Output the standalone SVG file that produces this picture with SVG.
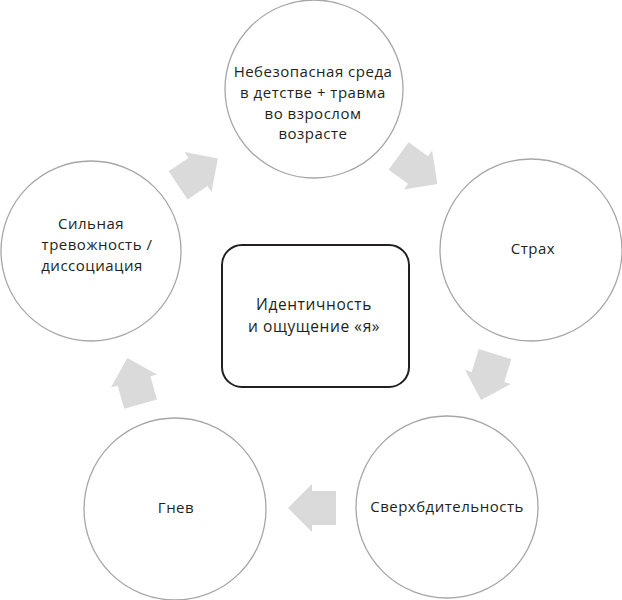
<svg xmlns="http://www.w3.org/2000/svg" width="622" height="600" viewBox="0 0 622 600">
<style>
.c{fill:#fff;stroke:#a6a6a6;stroke-width:1.3}
.t{font-family:"Open Sans","Noto Sans",sans-serif;font-size:15px;letter-spacing:0.5px;fill:#231f20;text-anchor:middle}
.tc{font-size:15.5px;letter-spacing:0.6px}
.a{fill:#dadada}
</style>
<defs>
<polygon id="arr" points="-24,-17 0,-17 0,-24 24,0 0,24 0,17 -24,17"/>
</defs>
<rect width="622" height="600" fill="#fff"/>
<g id="connectors">
<use href="#arr" class="a" transform="translate(198,172) rotate(-34)"/>
<use href="#arr" class="a" transform="translate(418,170) rotate(36)"/>
<use href="#arr" class="a" transform="translate(488,377) rotate(107)"/>
<use href="#arr" class="a" transform="translate(312,508) rotate(180)"/>
<use href="#arr" class="a" transform="translate(134,381) rotate(-106)"/>
</g>
<g id="n-top">
<circle class="c" cx="314" cy="89" r="89"/>
<text class="t" x="313" y="77">Небезопасная среда</text>
<text class="t" x="313" y="98">в детстве + травма</text>
<text class="t" x="313" y="119">во взрослом</text>
<text class="t" x="313" y="139">возрасте</text>
</g>
<g id="n-fear">
<circle class="c" cx="531" cy="250" r="91"/>
<text class="t" x="533" y="254">Страх</text>
</g>
<g id="n-hyper">
<circle class="c" cx="447" cy="507" r="91"/>
<text class="t" x="447" y="512">Сверхбдительность</text>
</g>
<g id="n-anger">
<circle class="c" cx="175" cy="509" r="91"/>
<text class="t" x="176" y="513">Гнев</text>
</g>
<g id="n-anx">
<circle class="c" cx="91" cy="251" r="90"/>
<text class="t" x="91" y="229">Сильная</text>
<text class="t" x="97" y="250">тревожность /</text>
<text class="t" x="92" y="271">диссоциация</text>
</g>
<g id="n-center">
<rect x="222" y="245" width="187" height="142" rx="20" ry="20" fill="#fff" stroke="#231f20" stroke-width="2"/>
<text class="t tc" x="314" y="310">Идентичность</text>
<text class="t tc" x="314" y="331.5">и ощущение «я»</text>
</g>
</svg>
